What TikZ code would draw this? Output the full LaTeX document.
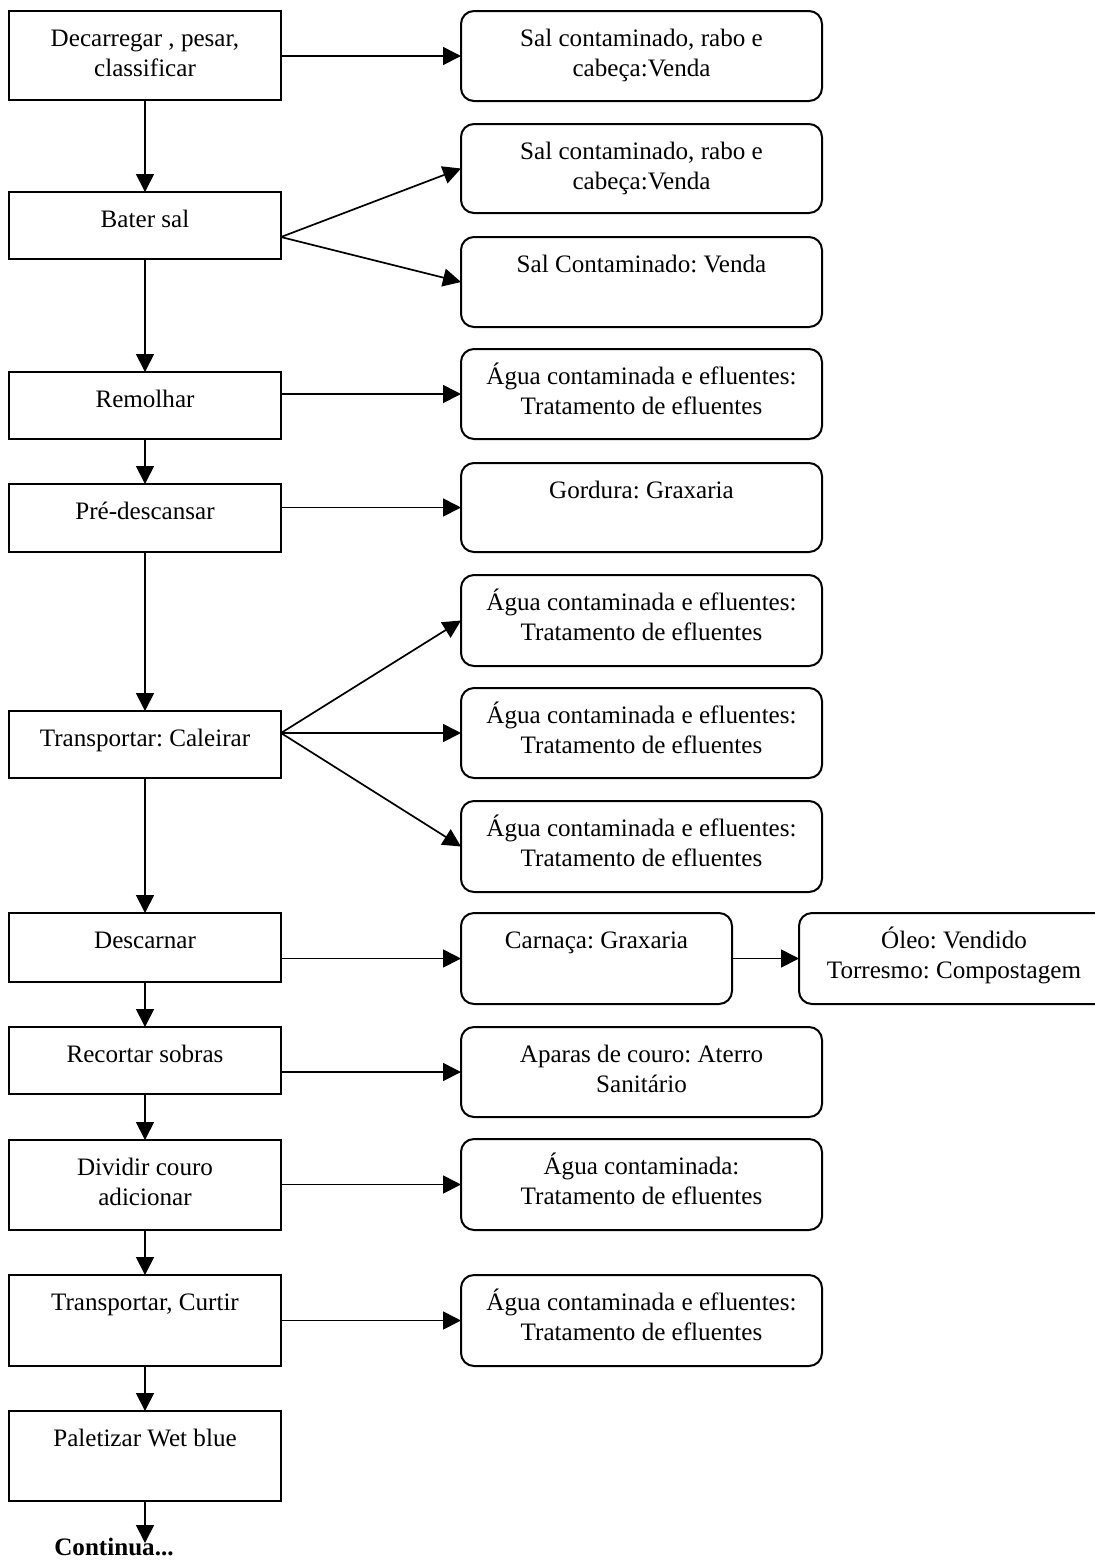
\documentclass[tikz,border=0pt]{standalone}
\usepackage{fontspec}
\setmainfont{Liberation Serif}
\usetikzlibrary{arrows.meta}
\frenchspacing

% one drawing unit = 0.5pt
\newlength\pu
\setlength\pu{0.5pt}
% fixed-size box content: width, height, text (top aligned, centred)
\newcommand\bx[3]{\parbox[c][#2\pu][t]{#1\pu}{\centering\rule{0pt}{17.5pt}#3}}

\tikzset{
  txt/.style={font=\fontsize{12.55pt}{15.15pt}\selectfont},
  lbox/.style={txt, draw, line width=1pt, inner sep=0pt, outer sep=0pt},
  rbox/.style={lbox, rounded corners=6.5pt},
  arr/.style={-{Triangle[length=9pt,width=9pt]}, line width=0.85pt},
}

\begin{document}
\begin{tikzpicture}[x=0.5pt, y=-0.5pt]
\useasboundingbox (0,0) rectangle (1094,1560);

% process steps
\node[lbox] (L1) at (145,55.5)  {\bx{272}{89}{Decarregar , pesar,\\classificar}};
\node[lbox] (L2) at (145,225.5) {\bx{272}{67}{Bater sal}};
\node[lbox] (L3) at (145,405.5) {\bx{272}{67}{Remolhar}};
\node[lbox] (L4) at (145,518)   {\bx{272}{68}{Pré-descansar}};
\node[lbox] (L5) at (145,744.5) {\bx{272}{67}{Transportar: Caleirar}};
\node[lbox] (L6) at (145,947.5) {\bx{272}{69}{Descarnar}};
\node[lbox] (L7) at (145,1060.5){\bx{272}{67}{Recortar sobras}};
\node[lbox] (L8) at (145,1185)  {\bx{272}{90}{Dividir couro\\adicionar}};
\node[lbox] (L9) at (145,1320.5){\bx{272}{91}{Transportar, Curtir}};
\node[lbox] (L10) at (145,1456) {\bx{272}{90}{Paletizar Wet blue}};

% outputs
\node[rbox] (R1) at (641.5,56)    {\bx{361}{90}{Sal contaminado, rabo e\\cabeça:Venda}};
\node[rbox] (R2) at (641.5,168.5) {\bx{361}{89}{Sal contaminado, rabo e\\cabeça:Venda}};
\node[rbox] (R3) at (641.5,282)   {\bx{361}{90}{Sal Contaminado: Venda}};
\node[rbox] (R4) at (641.5,394)   {\bx{361}{90}{Água contaminada e efluentes:\\Tratamento de efluentes}};
\node[rbox] (R5) at (641.5,507.5) {\bx{361}{89}{Gordura: Graxaria}};
\node[rbox] (R6) at (641.5,620.5) {\bx{361}{91}{Água contaminada e efluentes:\\Tratamento de efluentes}};
\node[rbox] (R7) at (641.5,733)   {\bx{361}{90}{Água contaminada e efluentes:\\Tratamento de efluentes}};
\node[rbox] (R8) at (641.5,846.5) {\bx{361}{91}{Água contaminada e efluentes:\\Tratamento de efluentes}};
\node[rbox] (R9) at (596.5,958.5) {\bx{271}{91}{Carnaça: Graxaria}};
\node[rbox] (R9b) at (954,958.5)  {\bx{310}{91}{Óleo: Vendido\\Torresmo: Compostagem}};
\node[rbox] (R10) at (641.5,1072) {\bx{361}{90}{Aparas de couro: Aterro\\Sanitário}};
\node[rbox] (R11) at (641.5,1184.5){\bx{361}{91}{Água contaminada:\\Tratamento de efluentes}};
\node[rbox] (R12) at (641.5,1320.5){\bx{361}{91}{Água contaminada e efluentes:\\Tratamento de efluentes}};

% main flow
\draw[arr] (L1.south) -- (L2.north);
\draw[arr] (L2.south) -- (L3.north);
\draw[arr] (L3.south) -- (L4.north);
\draw[arr] (L4.south) -- (L5.north);
\draw[arr] (L5.south) -- (L6.north);
\draw[arr] (L6.south) -- (L7.north);
\draw[arr] (L7.south) -- (L8.north);
\draw[arr] (L8.south) -- (L9.north);
\draw[arr] (L9.south) -- (L10.north);
\coordinate (cend) at (145,1543);
\draw[arr] (L10.south) -- (cend);
\node[txt, font=\fontsize{12.55pt}{15.15pt}\selectfont\bfseries, anchor=base, inner sep=0pt] (cont) at (114,1555) {Continua...};

% side outputs
\draw[arr] (L1.east |- R1.west) -- (R1.west);
\coordinate (f2y) at (0,237);
\coordinate (f2) at (L2.east |- f2y);
\draw[arr] (f2) -- (R2.west);
\draw[arr] (f2) -- (R3.west);
\draw[arr] (L3.east |- R4.west) -- (R4.west);
\draw[arr] (L4.east |- R5.west) -- (R5.west);
\coordinate (f5) at (L5.east |- R7.west);
\draw[arr] (f5) -- (R6.west);
\draw[arr] (f5) -- (R7.west);
\draw[arr] (f5) -- (R8.west);
\draw[arr] (L6.east |- R9.west) -- (R9.west);
\draw[arr] (R9.east) -- (R9b.west);
\draw[arr] (L7.east |- R10.west) -- (R10.west);
\draw[arr] (L8.east |- R11.west) -- (R11.west);
\draw[arr] (L9.east |- R12.west) -- (R12.west);
\end{tikzpicture}
\end{document}
